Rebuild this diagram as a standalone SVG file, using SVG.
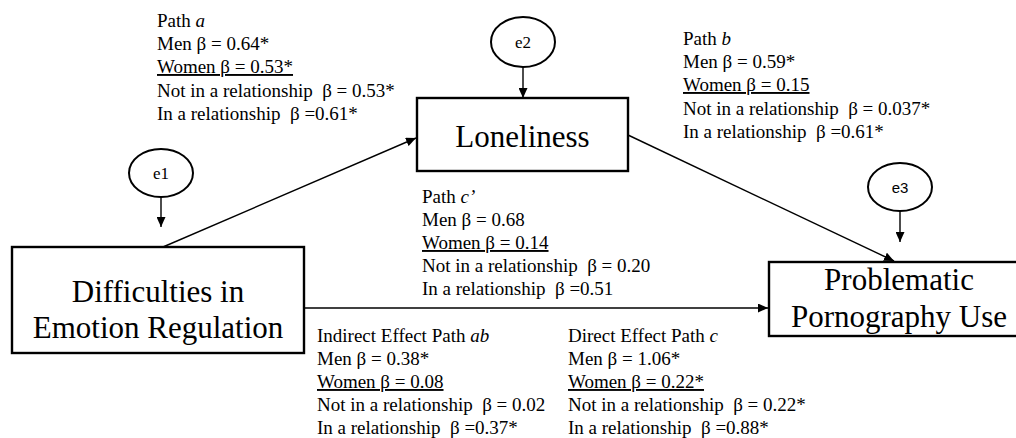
<svg xmlns="http://www.w3.org/2000/svg" width="1016" height="438" viewBox="0 0 1016 438">
<style>
.bg{fill:#fff}
.box{fill:#fff;stroke:#000;stroke-width:2.4}
.err{fill:#fff;stroke:#000;stroke-width:2}
.lbl{font-size:31px;fill:#000;text-anchor:middle}
.e{font-size:17px;fill:#000;text-anchor:middle}
.es{font-size:15px;fill:#000;text-anchor:middle}
.t{font-size:19px;fill:#000;white-space:pre}
.u{text-decoration:underline}
.i{font-style:italic}
.c{fill:none;stroke:#000;stroke-width:1.4}
</style>
<defs>
<marker id="ah" markerUnits="userSpaceOnUse" markerWidth="10" markerHeight="9" refX="10" refY="4.5" orient="auto">
<path d="M0,0 L10,4.5 L0,9 z" fill="#000"/>
</marker>
</defs>
<rect class="bg" x="0" y="0" width="1016" height="438"/>
<g id="connectors">
<line class="c" x1="161" y1="197" x2="161" y2="227" marker-end="url(#ah)"/>
<line class="c" x1="523" y1="67" x2="523" y2="98" marker-end="url(#ah)"/>
<line class="c" x1="900" y1="211" x2="900" y2="242" marker-end="url(#ah)"/>
<line class="c" x1="163" y1="247" x2="416" y2="138" marker-end="url(#ah)"/>
<line class="c" x1="628" y1="135" x2="894" y2="261" marker-end="url(#ah)"/>
<line class="c" x1="304" y1="308" x2="768" y2="308" marker-end="url(#ah)"/>
</g>
<g font-family="Liberation Serif, Tinos, Times New Roman, DejaVu Serif, serif">
<g id="e1">
<ellipse class="err" cx="161" cy="173" rx="32" ry="24"/>
<text class="e" x="161" y="179">e1</text>
</g>
<g id="e2">
<ellipse class="err" cx="523" cy="42" rx="32" ry="25"/>
<text class="e" x="523" y="48">e2</text>
</g>
<g id="e3">
<ellipse class="err" cx="900" cy="187" rx="32" ry="24"/>
<text class="es" x="900" y="193" font-family="Liberation Sans, Arial, sans-serif">e3</text>
</g>
<g id="der">
<rect class="box" x="12" y="247" width="292" height="106"/>
<text class="lbl" x="158" y="302">Difficulties in</text>
<text class="lbl" x="158" y="338">Emotion Regulation</text>
</g>
<g id="loneliness">
<rect class="box" x="417" y="98" width="211" height="73"/>
<text class="lbl" x="522.5" y="147">Loneliness</text>
</g>
<g id="ppu">
<rect class="box" x="769" y="262" width="262" height="74"/>
<text class="lbl" x="899" y="290">Problematic</text>
<text class="lbl" x="899" y="327">Pornography Use</text>
</g>
<g id="label-path-a" xml:space="preserve">
<text class="t" x="157" y="27">Path <tspan class="i">a</tspan></text>
<text class="t" x="157" y="50">Men β = 0.64*</text>
<text class="t u" x="157" y="73">Women β = 0.53*</text>
<text class="t" x="157" y="97">Not in a relationship  β = 0.53*</text>
<text class="t" x="157" y="120">In a relationship  β =0.61*</text>
</g>
<g id="label-path-b" xml:space="preserve">
<text class="t" x="683" y="45">Path <tspan class="i">b</tspan></text>
<text class="t" x="683" y="68">Men β = 0.59*</text>
<text class="t u" x="683" y="91">Women β = 0.15</text>
<text class="t" x="683" y="115">Not in a relationship  β = 0.037*</text>
<text class="t" x="683" y="138">In a relationship  β =0.61*</text>
</g>
<g id="label-path-c-prime" xml:space="preserve">
<text class="t" x="422" y="203">Path <tspan class="i">c’</tspan></text>
<text class="t" x="422" y="226">Men β = 0.68</text>
<text class="t u" x="422" y="249">Women β = 0.14</text>
<text class="t" x="422" y="272">Not in a relationship  β = 0.20</text>
<text class="t" x="422" y="295">In a relationship  β =0.51</text>
</g>
<g id="label-indirect" xml:space="preserve">
<text class="t" x="317" y="342">Indirect Effect Path <tspan class="i">ab</tspan></text>
<text class="t" x="317" y="365">Men β = 0.38*</text>
<text class="t u" x="317" y="388">Women β = 0.08</text>
<text class="t" x="317" y="411">Not in a relationship  β = 0.02</text>
<text class="t" x="317" y="434">In a relationship  β =0.37*</text>
</g>
<g id="label-direct" xml:space="preserve">
<text class="t" x="568" y="342">Direct Effect Path <tspan class="i">c</tspan></text>
<text class="t" x="568" y="365">Men β = 1.06*</text>
<text class="t u" x="568" y="388">Women β = 0.22*</text>
<text class="t" x="568" y="411">Not in a relationship  β = 0.22*</text>
<text class="t" x="568" y="434">In a relationship  β =0.88*</text>
</g>
</g>
</svg>
